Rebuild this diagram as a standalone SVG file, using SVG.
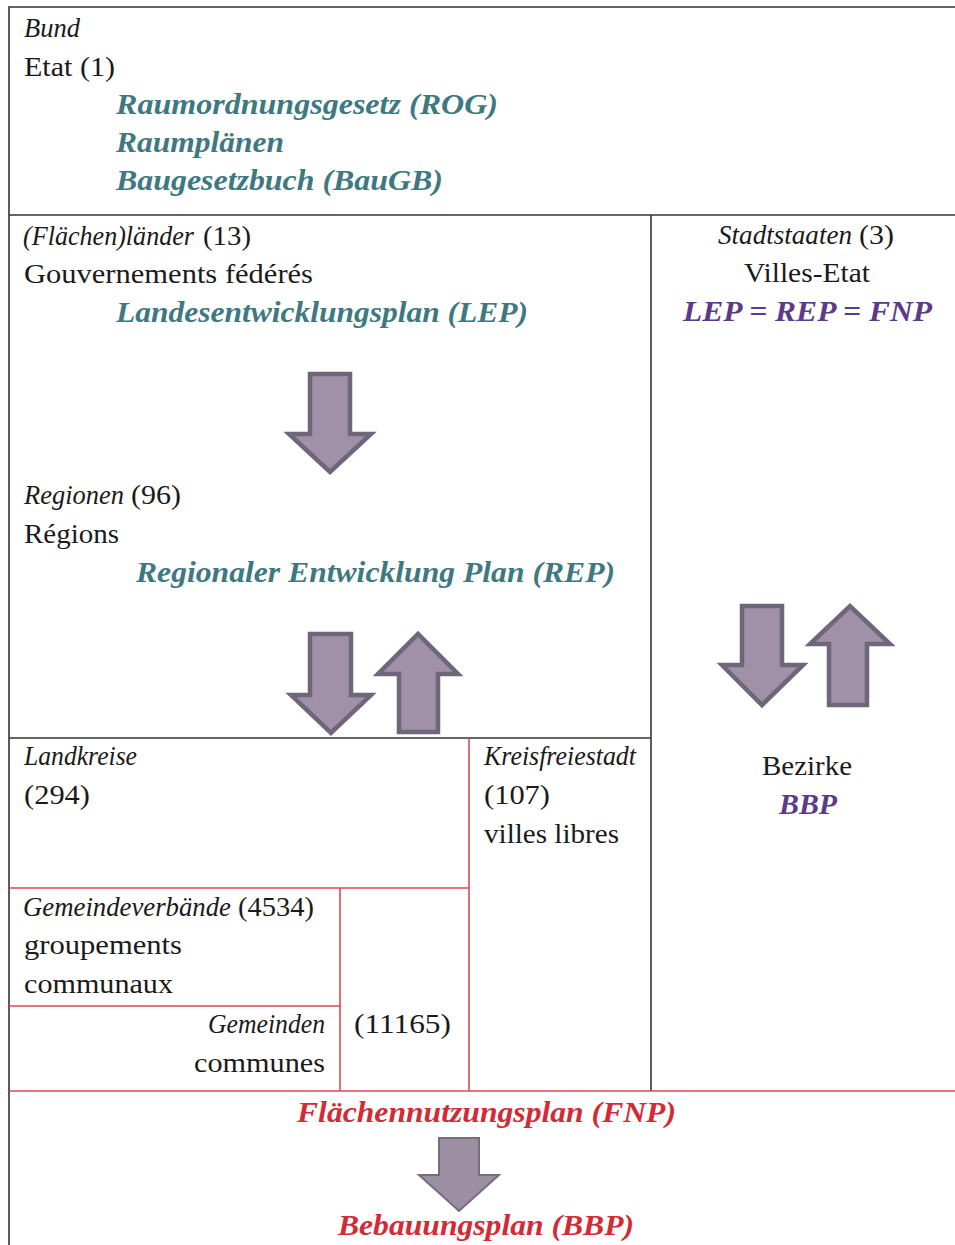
<svg xmlns="http://www.w3.org/2000/svg" width="955" height="1245" viewBox="0 0 955 1245">
<style>
text{font-family:"Liberation Serif","DejaVu Serif",serif;font-size:28px;fill:#1a1a1a}
.i{font-style:italic}
.teal{fill:#3e7880;font-style:italic;font-weight:bold;font-size:29px}
.pur{fill:#5b3a8a;font-style:italic;font-weight:bold;font-size:29px}
.red{fill:#d42a35;font-style:italic;font-weight:bold;font-size:29px}
.dk{stroke:#333;stroke-width:1.6;fill:none}
.rd{stroke:#d84a55;stroke-width:1.6;fill:none}
.arr{fill:#a091a9;stroke:#6f6679;stroke-width:4.5;stroke-linejoin:miter}
.arr2{fill:#9b8fa1;stroke:#766c80;stroke-width:2}
</style>
<rect width="955" height="1245" fill="#fff"/>
<g id="lines">
<path class="dk" d="M955 7H9V1245"/>
<path class="dk" d="M9 215H955"/>
<path class="dk" d="M651 215V1091"/>
<path class="dk" d="M9 738H651"/>
<path class="rd" d="M469 738V1091"/>
<path class="rd" d="M9 888H469"/>
<path class="rd" d="M340 888V1091"/>
<path class="rd" d="M9 1006H340"/>
<path class="rd" d="M9 1091H955"/>
</g>
<g id="connectors">
<path class="arr" d="M310 374H350V434H371L330 472L289 434H310Z"/>
<path class="arr" d="M310 634H351V695H371L331 733L291 695H310Z"/>
<path class="arr" d="M399 732V674H378L418 634L458 674H438V732Z"/>
<path class="arr" d="M742 606H782V665H803L762 705L722 665H742Z"/>
<path class="arr" d="M829 705V644H810L850 606L890 644H867V705Z"/>
<path class="arr2" d="M439 1138H479V1175H499L459 1211L419 1175H439Z"/>
</g>
<g id="bund">
<text x="24" y="37" class="i" textLength="56" lengthAdjust="spacingAndGlyphs">Bund</text>
<text x="24" y="76" textLength="91" lengthAdjust="spacingAndGlyphs">Etat (1)</text>
<text x="116" y="114" class="teal" textLength="382" lengthAdjust="spacingAndGlyphs">Raumordnungsgesetz (ROG)</text>
<text x="116" y="152" class="teal" textLength="168" lengthAdjust="spacingAndGlyphs">Raumplänen</text>
<text x="116" y="190" class="teal" textLength="327" lengthAdjust="spacingAndGlyphs">Baugesetzbuch (BauGB)</text>
</g>
<g id="laender">
<text x="23" y="245" class="i" textLength="171" lengthAdjust="spacingAndGlyphs">(Flächen)länder</text>
<text x="203" y="245" textLength="48" lengthAdjust="spacingAndGlyphs">(13)</text>
<text x="24" y="283" textLength="289" lengthAdjust="spacingAndGlyphs">Gouvernements fédérés</text>
<text x="116" y="322" class="teal" textLength="412" lengthAdjust="spacingAndGlyphs">Landesentwicklungsplan (LEP)</text>
</g>
<g id="regionen">
<text x="24" y="504" class="i" textLength="100" lengthAdjust="spacingAndGlyphs">Regionen</text>
<text x="131" y="504" textLength="50" lengthAdjust="spacingAndGlyphs">(96)</text>
<text x="24" y="543" textLength="95" lengthAdjust="spacingAndGlyphs">Régions</text>
<text x="136" y="582" class="teal" textLength="479" lengthAdjust="spacingAndGlyphs">Regionaler Entwicklung Plan (REP)</text>
</g>
<g id="stadtstaaten">
<text x="718" y="244" class="i" textLength="134" lengthAdjust="spacingAndGlyphs">Stadtstaaten</text>
<text x="859" y="244" textLength="35" lengthAdjust="spacingAndGlyphs">(3)</text>
<text x="744" y="282" textLength="126" lengthAdjust="spacingAndGlyphs">Villes-Etat</text>
<text x="683" y="321" class="pur" textLength="249" lengthAdjust="spacingAndGlyphs">LEP = REP = FNP</text>
</g>
<g id="bezirke">
<text x="762" y="775" textLength="90" lengthAdjust="spacingAndGlyphs">Bezirke</text>
<text x="779" y="814" class="pur" textLength="58" lengthAdjust="spacingAndGlyphs">BBP</text>
</g>
<g id="landkreise">
<text x="24" y="765" class="i" textLength="113" lengthAdjust="spacingAndGlyphs">Landkreise</text>
<text x="24" y="804" textLength="66" lengthAdjust="spacingAndGlyphs">(294)</text>
</g>
<g id="kreisfreiestadt">
<text x="484" y="765" class="i" textLength="152" lengthAdjust="spacingAndGlyphs">Kreisfreiestadt</text>
<text x="484" y="804" textLength="66" lengthAdjust="spacingAndGlyphs">(107)</text>
<text x="484" y="843" textLength="135" lengthAdjust="spacingAndGlyphs">villes libres</text>
</g>
<g id="gemeindeverbaende">
<text x="23" y="916" class="i" textLength="208" lengthAdjust="spacingAndGlyphs">Gemeindeverbände</text>
<text x="238" y="916" textLength="76" lengthAdjust="spacingAndGlyphs">(4534)</text>
<text x="24" y="954" textLength="158" lengthAdjust="spacingAndGlyphs">groupements</text>
<text x="24" y="993" textLength="149" lengthAdjust="spacingAndGlyphs">communaux</text>
</g>
<g id="gemeinden">
<text x="208" y="1033" class="i" textLength="117" lengthAdjust="spacingAndGlyphs">Gemeinden</text>
<text x="194" y="1072" textLength="131" lengthAdjust="spacingAndGlyphs">communes</text>
<text x="354" y="1033" textLength="97" lengthAdjust="spacingAndGlyphs">(11165)</text>
</g>
<g id="plans">
<text x="297" y="1122" class="red" textLength="379" lengthAdjust="spacingAndGlyphs">Flächennutzungsplan (FNP)</text>
<text x="338" y="1235" class="red" textLength="296" lengthAdjust="spacingAndGlyphs">Bebauungsplan (BBP)</text>
</g>
</svg>
